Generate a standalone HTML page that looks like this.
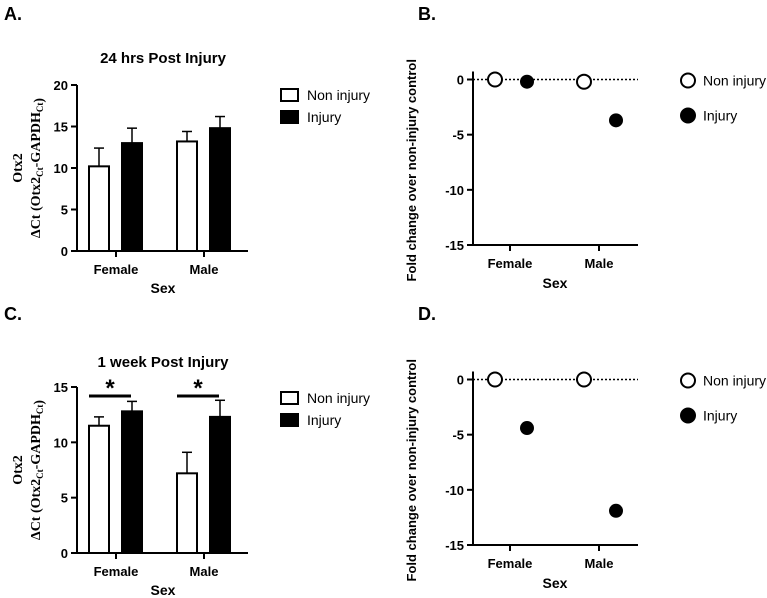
<!DOCTYPE html>
<html><head><meta charset="utf-8"><style>
body{margin:0;background:#fff;}
svg{display:block;font-family:"Liberation Sans",Arial,sans-serif;}
</style></head><body>
<svg id="s" width="767" height="598" viewBox="0 0 767 598"></svg>
<script>
const cats=["Female","Male"];
const a_non=[10.2,13.2], a_non_err=[2.2,1.2];
const a_inj=[13.0,14.8], a_inj_err=[1.8,1.4];
const c_non=[11.5,7.2], c_non_err=[0.8,1.9];
const c_inj=[12.8,12.3], c_inj_err=[0.9,1.5];
const b_non=[0,-0.2], b_inj=[-0.2,-3.7];
const d_non=[0,0], d_inj=[-4.4,-11.9];
const aTicks=[0,5,10,15,20], cTicks=[0,5,10,15], bTicks=[0,-5,-10,-15];
const NS="http://www.w3.org/2000/svg";
const s=document.getElementById('s');
function el(t,at,txt,p){const e=document.createElementNS(NS,t);for(const k in at)e.setAttribute(k,at[k]);if(txt!=null)e.textContent=txt;(p||s).appendChild(e);return e;}
function txt(x,y,t,sz,anchor,name,extra){const e=el('text',Object.assign({x:x,y:y,'font-size':sz,'font-weight':'bold','text-anchor':anchor||'middle'},extra||{}),t);

return e;}
function line(x1,y1,x2,y2,w,name,dash){const e=el('line',{x1,y1,x2,y2,stroke:'#000','stroke-width':w||2});if(dash)e.setAttribute('stroke-dasharray',dash);

return e;}

function barPanel(oy,label,title,titleY,ymax,ticks,non,nonE,inj,injE,yTop,yBot,sig){
  const ax=77,xEnd=248;
  const Y=v=>yBot-(v/ymax)*(yBot-yTop);
  txt(4,oy+20,label,18,'start','panel-label');
  txt(163,titleY,title,15,'middle','chart-title');
  line(ax,yTop,ax,yBot+1,2,'y-axis');
  line(ax-1,yBot,xEnd,yBot,2,'x-axis');
  ticks.forEach(t=>{line(ax-6,Y(t),ax,Y(t),2,'y-tick');txt(ax-9,Y(t)+5,String(t),13,'end','y-tick-label');});
  const centers=[116,204];
  cats.forEach((c,i)=>{
    const cx=centers[i];
    line(cx,yBot,cx,yBot+6,2,'x-tick');
    txt(cx,yBot+23,c,13,'middle','x-tick-label');
    const bw=20;
    [[non,nonE,cx-27,'#fff','non-injury'],[inj,injE,cx+6,'#000','injury']].forEach(([v,e,x,f,n])=>{
      line(x+bw/2,Y(v[i]),x+bw/2,Y(v[i]+e[i]),1.5,'error-bar');
      line(x+bw/2-5,Y(v[i]+e[i]),x+bw/2+5,Y(v[i]+e[i]),1.5,'error-cap');
      const r=el('rect',{x:x,y:Y(v[i]),width:bw,height:yBot-Y(v[i]),fill:f,stroke:'#000','stroke-width':2});
      
      
    });
    if(sig){line(cx-27,yTop+9,cx+15,yTop+9,3,'significance-bar');txt(cx-6,yTop+9,'*',24,'middle','significance-star');}
  });
  txt(163,yBot+42,'Sex',14,'middle','x-axis-title');
  const g=el('g',{transform:`translate(22,${(yTop+yBot)/2}) rotate(-90)`});
  
  
  el('text',{x:0,y:0,'text-anchor':'middle','font-size':14,'font-family':'Liberation Serif,serif','font-weight':'bold'},'Otx2',g);
  const t2=el('text',{x:0,y:18,'text-anchor':'middle','font-size':14,'font-family':'Liberation Serif,serif','font-weight':'bold'},null,g);
  t2.innerHTML='ΔCt (Otx2<tspan font-size="9" dy="3">Ct</tspan><tspan dy="-3">-GAPDH</tspan><tspan font-size="9" dy="3">Ct</tspan>)';
  const ly=oy+89;
  [['#fff','Non injury',0],['#000','Injury',22]].forEach(([f,t,d])=>{
    const r=el('rect',{x:281,y:ly+d+(oy?3:0),width:17,height:12,fill:f,stroke:'#000','stroke-width':2});
    
    
    txt(307,ly+d+(oy?3:0)+11,t,14,'start','legend-entry',{'font-weight':'normal'});
  });
}
function dotPanel(oy,label,non,inj,y0,yBot){
  const ax=473,xEnd=638;
  const Y=v=>y0+(-v/15)*(yBot-y0);
  txt(418,oy+20,label,18,'start','panel-label');
  line(ax,y0-8,ax,yBot+1,2,'y-axis');
  line(ax-1,yBot,xEnd,yBot,2,'x-axis');
  line(ax,Y(0),xEnd,Y(0),1.5,'zero-reference-line','2,2');
  bTicks.forEach(t=>{line(ax-6,Y(t),ax,Y(t),2,'y-tick');txt(ax-9,Y(t)+5,String(t),13,'end','y-tick-label');});
  const centers=[510,599];
  cats.forEach((c,i)=>{
    const cx=centers[i];
    line(cx,yBot,cx,yBot+6,2,'x-tick');
    txt(cx,yBot+23,c,13,'middle','x-tick-label');
    const p1=el('circle',{cx:cx-15,cy:Y(non[i]),r:7,fill:'#fff',stroke:'#000','stroke-width':2});
    
    
    const p2=el('circle',{cx:cx+17,cy:Y(inj[i]),r:7,fill:'#000'});
    
    
  });
  txt(555,yBot+43,'Sex',14,'middle','x-axis-title');
  txt(0,0,'Fold change over non-injury control',13,'middle','y-axis-title',{transform:`translate(416,${(y0+yBot)/2+8}) rotate(-90)`});
  [['#fff','Non injury',0],['#000','Injury',35]].forEach(([f,t,d])=>{
    const c=el('circle',{cx:688,cy:y0+1+d,r:7,fill:f,stroke:'#000','stroke-width':2});
    
    
    txt(703,y0+6+d,t,14,'start','legend-entry',{'font-weight':'normal'});
  });
}
barPanel(0,'A.','24 hrs Post Injury',63,20,aTicks,a_non,a_non_err,a_inj,a_inj_err,85,251,false);
barPanel(300,'C.','1 week Post Injury',367,15,cTicks,c_non,c_non_err,c_inj,c_inj_err,387,553,true);
dotPanel(0,'B.',b_non,b_inj,79.5,245);
dotPanel(300,'D.',d_non,d_inj,379.5,545);
</script>
</body></html>
